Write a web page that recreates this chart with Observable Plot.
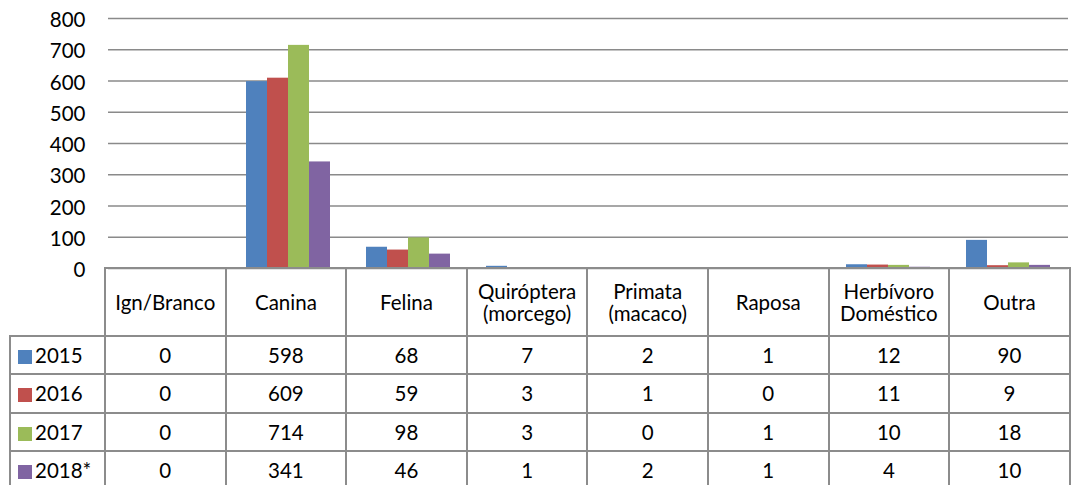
<!DOCTYPE html>
<html><head><meta charset="utf-8">
<script src="https://cdn.jsdelivr.net/npm/d3@7"></script>
<script src="https://cdn.jsdelivr.net/npm/@observablehq/plot@0.6"></script>
<style>
body{margin:0;background:#fff;}
#wrap{position:relative;width:1073px;height:485px;overflow:hidden;font-family:Lato,sans-serif;background:#fff;}
#chart{position:absolute;left:0;top:0;}
table{position:absolute;left:9px;top:267px;border-collapse:collapse;table-layout:fixed;font-size:20.5px;color:#000;font-family:Lato,sans-serif;}
td{border:2px solid #8c8c8c;text-align:center;padding:0;white-space:pre-line;line-height:22px;}
tr.head td{height:66px;}
tr.row td{height:36.3px;}
td.blank{border:none;}
td.leg{text-align:left;padding-left:7px;}
.sw{display:inline-block;width:14px;height:14px;margin-right:3px;vertical-align:-1px;}
</style></head>
<body><div id="wrap"><div id="chart"></div></div>
<script>
const categories = ["Ign/Branco","Canina","Felina","Quiróptera\n(morcego)","Primata\n(macaco)","Raposa","Herbívoro\nDoméstico","Outra"];
const years = ["2015","2016","2017","2018*"];
const values2015 = [0,598,68,7,2,1,12,90];
const values2016 = [0,609,59,3,1,0,11,9];
const values2017 = [0,714,98,3,0,1,10,18];
const values2018 = [0,341,46,1,2,1,4,10];
const yTicks = [0,100,200,300,400,500,600,700,800];
const colors = ["#4F81BD","#C0504D","#9BBB59","#8064A2"];

const series = [values2015, values2016, values2017, values2018];
const data = [];
years.forEach((yr, i) => categories.forEach((c, j) => data.push({category:c, year:yr, value:series[i][j]})));

const chart = Plot.plot({
  width:1073, height:292, marginLeft:105, marginRight:3, marginTop:18, marginBottom:24,
  style:{fontFamily:"Lato, sans-serif", background:"transparent"},
  fx:{domain:categories, padding:0, axis:null, label:null},
  x:{domain:years, paddingInner:0, paddingOuter:0.74, axis:null},
  y:{domain:[0,800], axis:null},
  color:{domain:years, range:colors},
  marks:[
    Plot.ruleY(yTicks, {stroke:"#8a8a8a", strokeWidth:1.5}),
    Plot.barY(data, {fx:"category", x:"year", y:"value", fill:"year"}),
    Plot.axisY({ticks:yTicks, tickSize:0, tickPadding:23, line:true, stroke:"#8a8a8a", strokeWidth:1.5, fill:"#000", fontSize:20.5, label:null, dy:2, tickFormat:d=>String(d)})
  ]
});
document.getElementById("chart").appendChild(chart);

// data table below the chart
const table = document.createElement("table");
const cg = document.createElement("colgroup");
[95].concat(categories.map(()=>120.6)).forEach(w=>{const c=document.createElement("col");c.style.width=w+"px";cg.appendChild(c);});
table.appendChild(cg);
const head = document.createElement("tr"); head.className="head";
const b = document.createElement("td"); b.className="blank"; head.appendChild(b);
categories.forEach(c=>{const td=document.createElement("td");td.textContent=c;head.appendChild(td);});
table.appendChild(head);
years.forEach((yr,i)=>{
  const tr=document.createElement("tr"); tr.className="row";
  const l=document.createElement("td"); l.className="leg";
  const sw=document.createElement("span"); sw.className="sw"; sw.style.background=colors[i];
  l.appendChild(sw); l.appendChild(document.createTextNode(yr)); tr.appendChild(l);
  series[i].forEach(v=>{const td=document.createElement("td");td.textContent=v;tr.appendChild(td);});
  table.appendChild(tr);
});
document.getElementById("wrap").appendChild(table);
</script></body></html>
